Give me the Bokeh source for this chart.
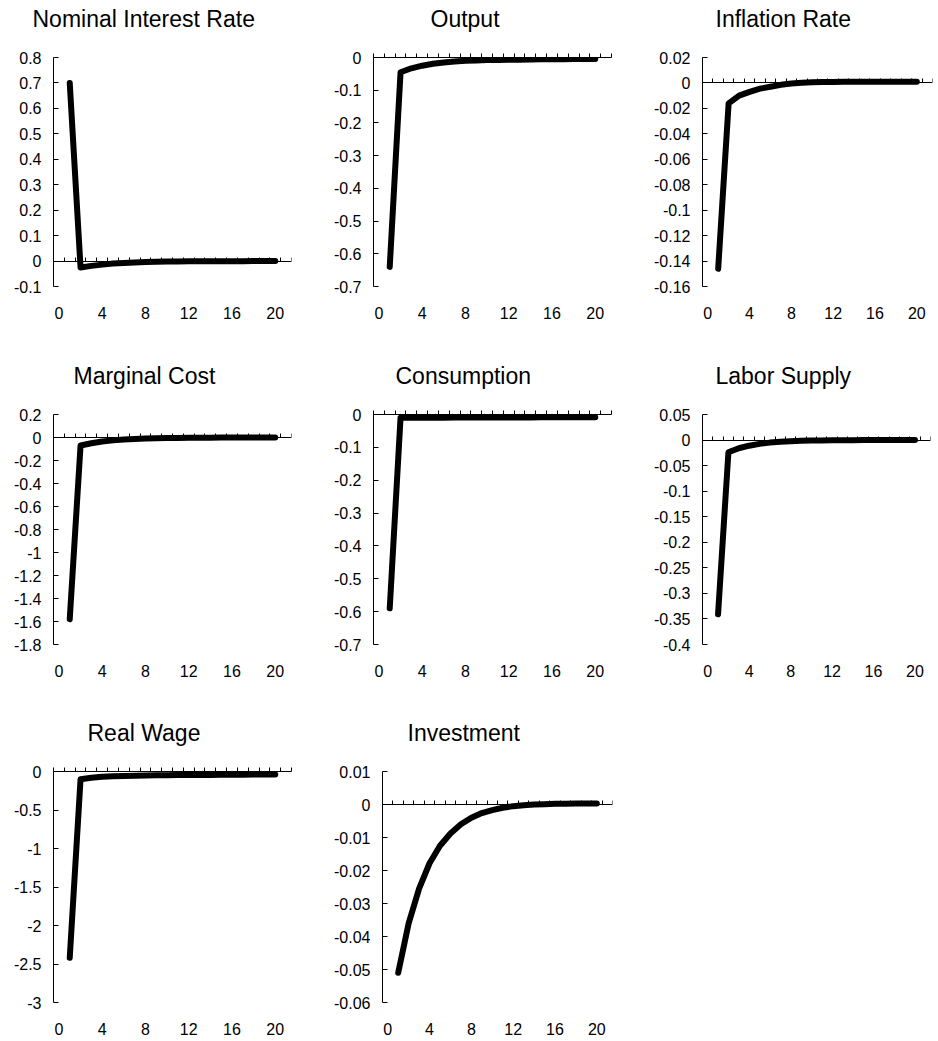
from bokeh.plotting import figure
from bokeh.layouts import column, row
from bokeh.models import Range1d, LinearAxis, FixedTicker, CustomJSTickFormatter, Title
from bokeh.embed import file_html
from bokeh.resources import INLINE

# ---------------- data ----------------
periods = list(range(1, 21))
categories = list(range(0, 22))
x_tick_labels = [0, 4, 8, 12, 16, 20]

titles = ["Nominal Interest Rate", "Output", "Inflation Rate",
          "Marginal Cost", "Consumption", "Labor Supply",
          "Real Wage", "Investment"]

nominal_rate = [0.70, -0.025, -0.019, -0.014, -0.010, -0.0075, -0.0055, -0.004,
                -0.003, -0.0022, -0.0016, -0.0012, -0.0009, -0.0007, -0.0005,
                -0.0004, -0.0003, -0.0002, -0.0002, -0.0001]
output = [-0.64, -0.045, -0.033, -0.025, -0.019, -0.015, -0.012, -0.010,
          -0.009, -0.008, -0.0075, -0.007, -0.0065, -0.006, -0.0057,
          -0.0054, -0.0051, -0.0048, -0.0045, -0.0043]
inflation = [-0.146, -0.016, -0.010, -0.007, -0.0045, -0.003, -0.0015, -0.0005,
             0.0002, 0.0005, 0.0007, 0.0008, 0.0009, 0.001, 0.001, 0.001,
             0.001, 0.001, 0.001, 0.001]
marginal_cost = [-1.58, -0.07, -0.05, -0.035, -0.025, -0.018, -0.013, -0.009,
                 -0.0065, -0.0047, -0.0034, -0.0025, -0.0018, -0.0013, -0.001,
                 -0.0007, -0.0005, -0.0004, -0.0003, -0.0002]
consumption = [-0.59, -0.0100, -0.0099, -0.0098, -0.0097, -0.0096, -0.0095, -0.0094,
               -0.0093, -0.0092, -0.0091, -0.0090, -0.0089, -0.0088, -0.0087,
               -0.0086, -0.0085, -0.0084, -0.0082, -0.0080]
labor_supply = [-0.341, -0.024, -0.016, -0.011, -0.0075, -0.005, -0.0035, -0.0023,
                -0.0015, -0.001, -0.0007, -0.0005, -0.0003, -0.0002, -0.0001,
                -0.0001, 0.0, 0.0, 0.0, 0.0]
real_wage = [-2.42, -0.10, -0.08, -0.068, -0.062, -0.058, -0.055, -0.052,
             -0.050, -0.048, -0.047, -0.046, -0.045, -0.044, -0.043,
             -0.042, -0.041, -0.040, -0.039, -0.038]
investment = [-0.051, -0.036, -0.0255, -0.0178, -0.0125, -0.0088, -0.006, -0.004,
              -0.0026, -0.0017, -0.001, -0.0005, -0.0002, 0.0, 0.0001,
              0.0002, 0.0002, 0.0003, 0.0003, 0.0003]

nominal_ticks = [-0.1, 0.0, 0.1, 0.2, 0.3, 0.4, 0.5, 0.6, 0.7, 0.8]
output_ticks = [-0.7, -0.6, -0.5, -0.4, -0.3, -0.2, -0.1, 0.0]
inflation_ticks = [-0.16, -0.14, -0.12, -0.1, -0.08, -0.06, -0.04, -0.02, 0.0, 0.02]
mc_ticks = [-1.8, -1.6, -1.4, -1.2, -1.0, -0.8, -0.6, -0.4, -0.2, 0.0, 0.2]
consumption_ticks = [-0.7, -0.6, -0.5, -0.4, -0.3, -0.2, -0.1, 0.0]
labor_ticks = [-0.4, -0.35, -0.3, -0.25, -0.2, -0.15, -0.1, -0.05, 0.0, 0.05]
wage_ticks = [-3.0, -2.5, -2.0, -1.5, -1.0, -0.5, 0.0]
investment_ticks = [-0.06, -0.05, -0.04, -0.03, -0.02, -0.01, 0.0, 0.01]

series = [nominal_rate, output, inflation, marginal_cost, consumption,
          labor_supply, real_wage, investment]
y_ticks = [nominal_ticks, output_ticks, inflation_ticks, mc_ticks,
           consumption_ticks, labor_ticks, wage_ticks, investment_ticks]

# ---------------- layout (pixels) ----------------
# (border_left, frame_width, border_right, title_offset_from_frame_left)
geometry = [
    (53, 238, 27, -21), (55, 238, 17, 57), (74, 230, 4, 13),
    (53, 238, 27, 20), (55, 238, 17, 22), (74, 228, 6, 13),
    (53, 238, 27, 34), (64, 230, 16, 25),
]
# (frame_height, border_top, border_bottom) per row
row_geometry = [(229, 57, 71), (230, 57, 70), (231, 57, 38)]
FONT = "Liberation Sans"
TICK_LEN = 4
boundaries = [c - 0.5 for c in categories] + [categories[-1] + 0.5]


def zero_line_axis(**kw):
    return LinearAxis(
        ticker=FixedTicker(ticks=boundaries),
        formatter=CustomJSTickFormatter(code="return '';"),
        minor_tick_line_color=None, minor_tick_in=0, minor_tick_out=0,
        major_label_text_color=None, major_label_text_font_size="0px",
        major_label_standoff=0,
        axis_line_color="black", major_tick_line_color="black", **kw)


def make_panel(i):
    bl, fw, br, toff = geometry[i]
    fh, bt, bb = row_geometry[i // 3]
    ticks = y_ticks[i]
    y_lo, y_hi = min(ticks), max(ticks)
    zero_on_top = (y_hi == 0)
    p = figure(
        title=None,
        frame_width=fw, frame_height=fh,
        min_border_left=bl, min_border_right=br,
        min_border_top=bt, min_border_bottom=bb,
        x_range=Range1d(boundaries[0], boundaries[-1]),
        y_range=Range1d(y_lo, y_hi),
        output_backend="svg", toolbar_location=None,
    )
    p.outline_line_color = None
    p.xgrid.visible = False
    p.ygrid.visible = False
    p.background_fill_color = "white"
    p.border_fill_color = "white"

    # keep explicit handles on the default axes before adding others
    xa = p.below[0]
    ya = p.left[0]

    # y axis
    ya.ticker = FixedTicker(ticks=ticks)
    ya.formatter = CustomJSTickFormatter(code="return String(+tick.toFixed(4));")
    ya.major_tick_in = 5
    ya.major_tick_out = 0
    ya.minor_tick_line_color = None
    ya.major_label_standoff = 12
    ya.major_label_text_font = FONT
    ya.major_label_text_font_size = "16px"
    ya.major_label_text_color = "black"
    ya.axis_line_color = "black"
    ya.major_tick_line_color = "black"

    # x labels (no axis line)
    xa.ticker = FixedTicker(ticks=x_tick_labels)
    xa.axis_line_color = None
    xa.major_tick_line_color = None
    xa.minor_tick_line_color = None
    xa.major_tick_in = 0
    xa.major_tick_out = 0
    xa.major_label_standoff = 20
    xa.major_label_text_font = FONT
    xa.major_label_text_font_size = "16px"
    xa.major_label_text_color = "black"

    # zero line with category tick marks
    if zero_on_top:
        # zero is the top edge: draw it as a top axis with ticks pointing up
        p.add_layout(zero_line_axis(major_tick_out=TICK_LEN, major_tick_in=0),
                     "above")
        spacer_standoff = 1
    else:
        p.add_layout(zero_line_axis(fixed_location=0, major_tick_in=TICK_LEN,
                                    major_tick_out=0), "below")
        spacer_standoff = 5

    # spacer between frame and title, then the title itself
    p.add_layout(Title(text=" ", text_font=FONT, text_font_size="16px",
                       standoff=spacer_standoff), "above")
    p.add_layout(Title(text=titles[i], align="left", offset=toff,
                       text_font=FONT, text_font_size="23px",
                       text_font_style="normal", text_color="black",
                       standoff=4), "above")

    p.line(periods, series[i], line_color="black", line_width=6,
           line_cap="round", line_join="round")
    return p


panels = [make_panel(i) for i in range(8)]
layout = column(
    row(panels[0], panels[1], panels[2]),
    row(panels[3], panels[4], panels[5]),
    row(panels[6], panels[7]),
)

with open("out.html", "w") as f:
    f.write(file_html(layout, INLINE))
